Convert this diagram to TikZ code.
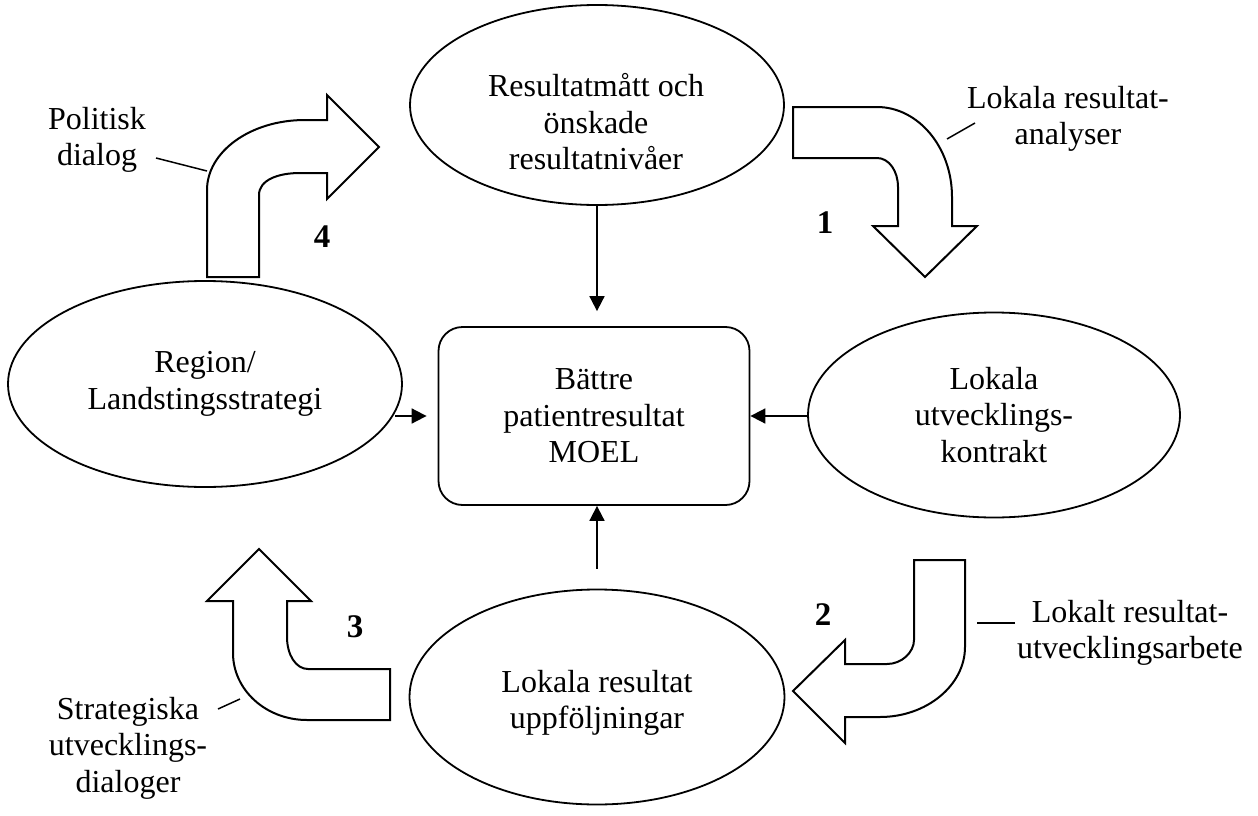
\documentclass[tikz,border=0pt]{standalone}
\usepackage{fontspec}
\setmainfont{Liberation Serif}
\usetikzlibrary{positioning,shapes.geometric,arrows.meta}
\tikzstyle{oval} = [draw, ellipse, line width=1.8pt, inner sep=0pt, align=center]
\tikzstyle{box} = [draw, rectangle, rounded corners=24pt, line width=1.8pt, align=center, minimum width=311pt, minimum height=178pt]
\tikzstyle{txt} = [align=center, inner sep=0pt]
\tikzstyle{link} = [line width=1.8pt,-{Triangle[length=15pt,width=15pt]}]
\tikzstyle{blockarrow} = [draw, line width=2pt, line join=miter]
\tikzstyle{num} = [font=\fontsize{33}{36}\selectfont\bfseries]

\begin{document}
\begin{tikzpicture}[x=1pt,y=-1pt,font=\fontsize{32}{36.5}\selectfont]
    \useasboundingbox (0,0) rectangle (1258,816);

    \node (moel) [box] at (594,416) {Bättre\\patientresultat\\MOEL};

    \node (mal) [oval, minimum width=374pt, minimum height=200pt] at (597,105) {}; % text sits a bit low in this one
    \node (malt) [txt] at (596,122) {Resultatmått och\\önskade\\resultatnivåer};
    \draw [link, shorten >=15pt] (mal.south) -- (mal.south |- moel.north);

    \node (reg) [oval, minimum width=394pt, minimum height=206pt] at (205,384) {Region/\\Landstingsstrategi};
    \draw [link, shorten <=-8pt, shorten >=11pt] (reg.east |- moel.west) -- (moel.west);

    \node (kon) [oval, minimum width=372pt, minimum height=205pt] at (994,415) {Lokala\\utvecklings-\\kontrakt};
    \draw [link] (kon.west |- moel.east) -- (moel.east);

    \node (upp) [oval, minimum width=375pt, minimum height=215pt] at (597,697) {}; % same trick for the text
    \node (uppt) [txt] at (597,703) {Lokala resultat\\uppföljningar};
    \draw [link, shorten <=20pt] (upp.north) -- (upp.north |- moel.south);

    % bent block arrows 1-4
    \draw [blockarrow] (793,107) -- (877,107) .. controls (918,107) and (952,147) .. (952,197) -- (952,226) -- (977,226) -- (925,277) -- (873,226) -- (898,226) -- (898,187) .. controls (898,171) and (889,158) .. (877,158) -- (793,158) -- cycle;
    \draw [blockarrow] (914,560) -- (965,560) -- (965,647) .. controls (965,685) and (927,717) .. (880,717) -- (845,717) -- (845,743) -- (793,691) -- (845,640) -- (845,664) -- (887,664) .. controls (902,664) and (914,652) .. (914,640) -- cycle;
    \draw [blockarrow] (390,669) -- (390,720) -- (307,720) .. controls (266,720) and (233,690) .. (233,653) -- (233,601) -- (207,601) -- (259,549) -- (311,601) -- (287,601) -- (287,637) .. controls (287,655) and (296,669) .. (308,669) -- cycle;
    \draw [blockarrow] (207,277) -- (207,190) .. controls (207,152) and (250,120) .. (305,120) -- (327,120) -- (327,95) -- (379,147) -- (327,199) -- (327,173) -- (300,173) .. controls (278,173) and (259,180) .. (259,195) -- (259,277) -- cycle;

    \node (n1) [num] at (825,223) {1};
    \node (n2) [num] at (823,615) {2};
    \node (n3) [num] at (355,627) {3};
    \node (n4) [num] at (322,237) {4};

    % side labels with their short leader lines
    \node (ana) [txt] at (1068,119) {Lokala resultat-\\analyser};
    \coordinate (ana1) at (975,123);
    \coordinate (ana2) at (947,139);
    \draw [line width=1.5pt] (ana1) -- (ana2);

    \node (arb) [txt] at (1130,633) {Lokalt resultat-\\utvecklingsarbete};
    \coordinate (arb1) at (1015,623);
    \coordinate (arb2) at (977,623);
    \draw [line width=1.5pt] (arb1) -- (arb2);

    \node (str) [txt] at (128,748) {Strategiska\\utvecklings-\\dialoger};
    \coordinate (str1) at (218,709);
    \coordinate (str2) at (240,699);
    \draw [line width=1.5pt] (str1) -- (str2);

    \node (pol) [txt] at (97,140) {Politisk\\dialog};
    \coordinate (pol1) at (156,158);
    \coordinate (pol2) at (207,171);
    \draw [line width=1.5pt] (pol1) -- (pol2);
\end{tikzpicture}
\end{document}
